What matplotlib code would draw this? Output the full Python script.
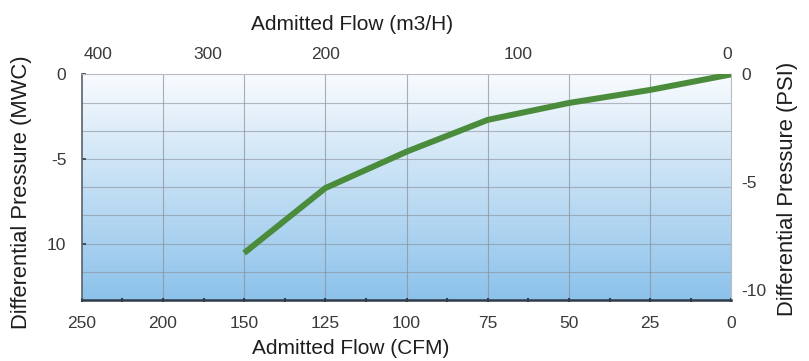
"""Differential pressure vs admitted flow chart."""

import matplotlib.pyplot as plt
import numpy as np

plt.rcParams["font.family"] = ["Liberation Sans", "DejaVu Sans"]

# bottom axis categories (CFM), evenly spaced although not linear
cfm_labels = ["250", "200", "150", "125", "100", "75", "50", "25", "0"]
# top axis labels (m3/H) and where they sit along the bottom category index
m3h_labels = ["400", "300", "200", "100", "0"]
m3h_positions = [0.2, 1.55, 3.0, 5.38, 7.95]

# curve: CFM category index -> differential pressure (MWC)
curve_index = [2, 3, 4, 5, 6, 7, 8]
curve_mwc = [-10.56, -6.72, -4.57, -2.69, -1.69, -0.92, 0.0]

mwc_ticks = [0, -5, -10]
mwc_tick_labels = ["0", "-5", "10"]
psi_ticks = [0, -5, -10]
psi_tick_labels = ["0", "-5", "-10"]

MWC_MIN = -40 / 3
PSI_MIN = -10.46

text_color = "#3a3a3a"
label_color = "#1e1e1e"
line_color = "#4a8c3c"
tick_size = 12.5

fig = plt.figure(figsize=(8.09, 3.61), dpi=100)
ax = fig.add_axes([0.101, 0.169, 0.803, 0.625])

# vertical gradient background
grad = np.linspace(0, 1, 256).reshape(-1, 1)
top_rgb = np.array([0.975, 0.985, 0.995])
bot_rgb = np.array([0.55, 0.76, 0.92])
img = top_rgb + (bot_rgb - top_rgb) * grad[..., None]
ax.imshow(img, extent=[0, 1, 0, 1], transform=ax.transAxes,
          aspect="auto", origin="upper", zorder=0)

ax.set_xlim(0, len(cfm_labels) - 1)
ax.set_ylim(MWC_MIN, 0)

ax.plot(curve_index, curve_mwc, color=line_color, lw=4.3,
        solid_capstyle="butt", solid_joinstyle="round", zorder=3)

# grid
for i in range(1, len(cfm_labels) - 1):
    ax.axvline(i, color="#8a8f96", lw=0.8, alpha=0.7, zorder=1)
for k in range(1, 8):
    ax.axhline(-k * 5 / 3, color="#8a8f96", lw=0.8, alpha=0.6, zorder=1)

ax.set_xticks(range(len(cfm_labels)))
ax.set_xticklabels(cfm_labels)
ax.set_xticks(np.arange(0.5, len(cfm_labels) - 1, 1), minor=True)
ax.set_yticks(mwc_ticks)
ax.set_yticklabels(mwc_tick_labels)
ax.tick_params(axis="x", which="both", direction="inout", length=3,
               width=1.5, color="#2f3b48", labelsize=tick_size,
               labelcolor=text_color, pad=10)
ax.tick_params(axis="y", direction="in", length=3, width=1.2,
               color="#2f3b48", labelsize=tick_size, labelcolor=text_color,
               pad=11)

for side in ["top", "right"]:
    ax.spines[side].set_color("#b8bcc2")
    ax.spines[side].set_linewidth(0.8)
ax.spines["bottom"].set_color("#2f3b48")
ax.spines["bottom"].set_linewidth(1.8)
ax.spines["left"].set_color("#5a626c")
ax.spines["left"].set_linewidth(1.2)

# top axis (m3/H)
ax_top = ax.twiny()
ax_top.set_xlim(ax.get_xlim())
ax_top.set_xticks(m3h_positions)
ax_top.set_xticklabels(m3h_labels)
ax_top.tick_params(axis="x", length=0, labelsize=tick_size,
                   labelcolor=text_color, pad=9)
for side in ax_top.spines:
    ax_top.spines[side].set_visible(False)

# right axis (PSI)
ax_r = ax.twinx()
ax_r.set_ylim(PSI_MIN, 0)
ax_r.set_yticks(psi_ticks)
ax_r.set_yticklabels(psi_tick_labels)
ax_r.tick_params(axis="y", length=0, labelsize=tick_size,
                 labelcolor=text_color, pad=7)
for side in ax_r.spines:
    ax_r.spines[side].set_visible(False)

fig.text(0.435, 0.933, "Admitted Flow (m3/H)", ha="center", va="center",
         fontsize=15, color=label_color)
fig.text(0.433, 0.036, "Admitted Flow (CFM)", ha="center", va="center",
         fontsize=15, color=label_color)
fig.text(0.027, 0.468, "Differential Pressure (MWC)", ha="center",
         va="center", rotation=90, fontsize=15.8, color=label_color)
fig.text(0.973, 0.476, "Differential Pressure (PSI)", ha="center",
         va="center", rotation=90, fontsize=15.8, color=label_color)

fig.savefig("out.png", dpi=100)
